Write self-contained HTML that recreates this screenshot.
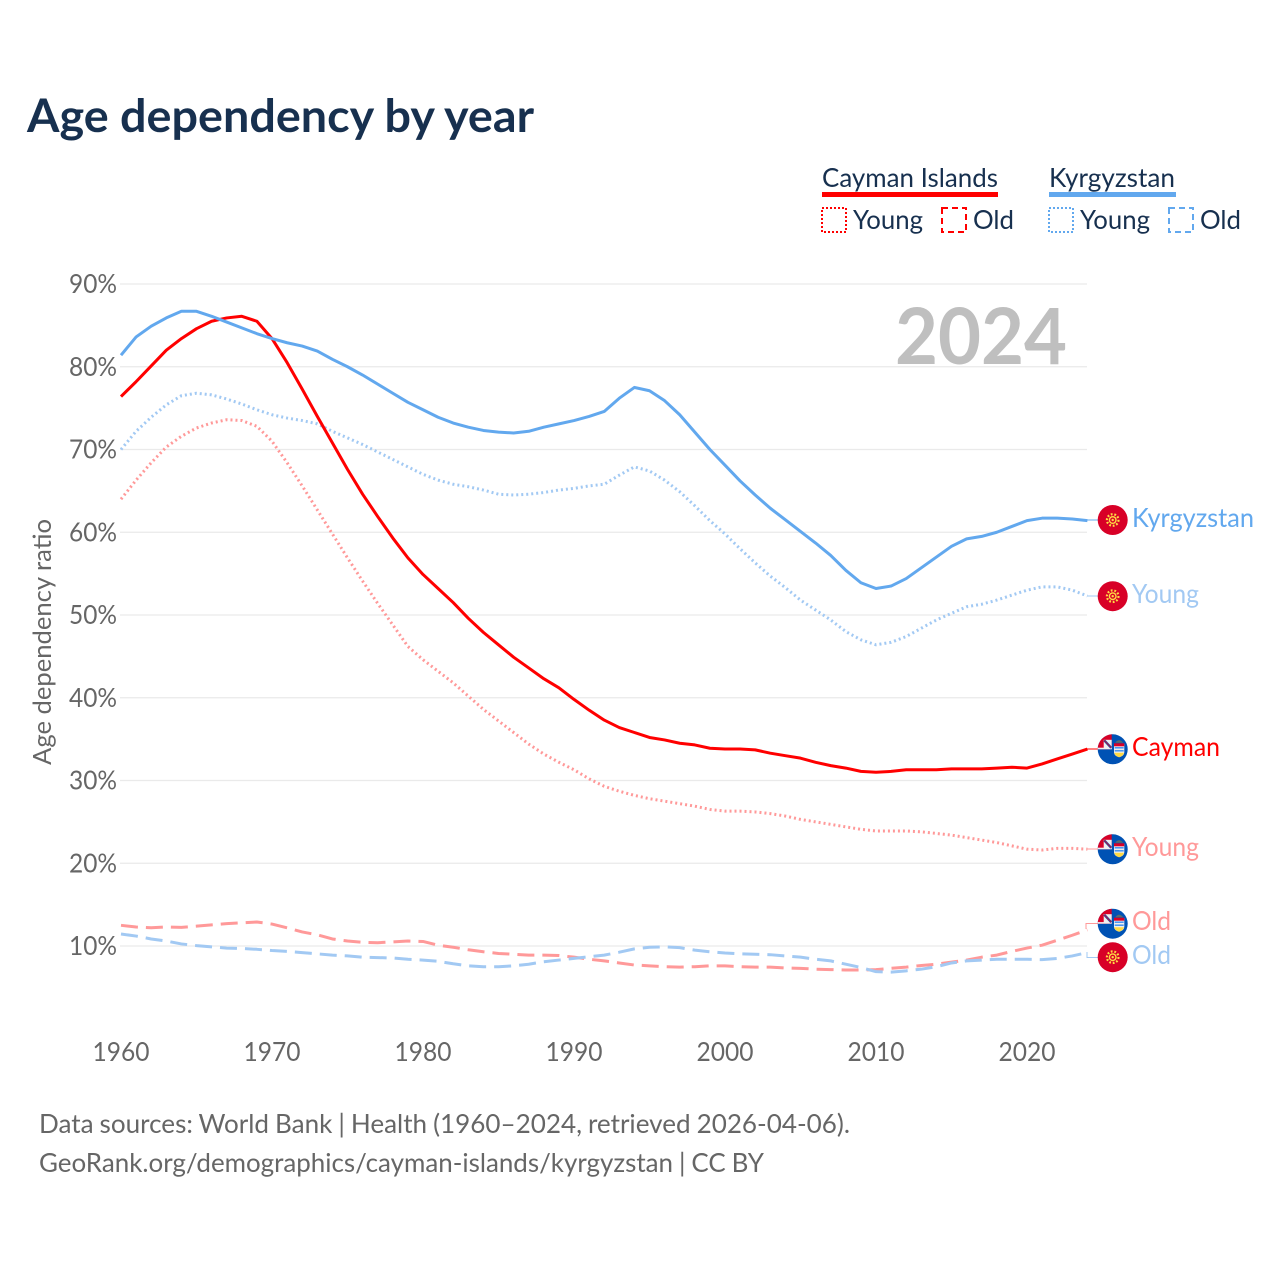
<!DOCTYPE html>
<html>
<head>
<meta charset="utf-8">
<title>Age dependency by year</title>
<style>
html,body{margin:0;padding:0;background:#fff;}
svg{display:block;}
text{font-family:"Lato","Carlito","Liberation Sans","DejaVu Sans",sans-serif;}
</style>
</head>
<body>
<svg id="chart" width="1280" height="1280" viewBox="0 0 1280 1280" xmlns="http://www.w3.org/2000/svg">
  <rect x="0" y="0" width="1280" height="1280" fill="#fff"/>
  <text x="27" y="132" font-size="46" font-weight="700" fill="#17304f" textLength="507" lengthAdjust="spacingAndGlyphs">Age dependency by year</text>

  <text x="822" y="187" font-size="26" fill="#17304f" textLength="176" lengthAdjust="spacingAndGlyphs">Cayman Islands</text>
  <rect x="822" y="192" width="176" height="5" fill="#ff0000"/>
  <rect x="822" y="208" width="24" height="24" fill="none" stroke="#ff0000" stroke-width="2" stroke-dasharray="2 2"/>
  <text x="853" y="229" font-size="26" fill="#17304f" textLength="70" lengthAdjust="spacingAndGlyphs">Young</text>
  <rect x="942" y="208" width="24" height="24" fill="none" stroke="#ff0000" stroke-width="2" stroke-dasharray="6 4"/>
  <text x="973" y="229" font-size="26" fill="#17304f" textLength="41" lengthAdjust="spacingAndGlyphs">Old</text>

  <text x="1049" y="187" font-size="26" fill="#17304f" textLength="126" lengthAdjust="spacingAndGlyphs">Kyrgyzstan</text>
  <rect x="1049" y="192" width="127" height="5" fill="#62a8ee"/>
  <rect x="1049" y="208" width="24" height="24" fill="none" stroke="#62a8ee" stroke-width="2" stroke-dasharray="2 2"/>
  <text x="1080" y="229" font-size="26" fill="#17304f" textLength="70" lengthAdjust="spacingAndGlyphs">Young</text>
  <rect x="1169" y="208" width="24" height="24" fill="none" stroke="#62a8ee" stroke-width="2" stroke-dasharray="6 4"/>
  <text x="1200" y="229" font-size="26" fill="#17304f" textLength="41" lengthAdjust="spacingAndGlyphs">Old</text>

  <text x="895" y="364" font-size="78" font-weight="700" fill="#bfbfbf" textLength="172" lengthAdjust="spacingAndGlyphs">2024</text>
  <text transform="translate(51 765) rotate(-90)" x="0" y="0" font-size="25" fill="#666666" textLength="246" lengthAdjust="spacingAndGlyphs">Age dependency ratio</text>

  <text x="39" y="1133" font-size="26" fill="#666666" word-spacing="-0.7" textLength="811" lengthAdjust="spacingAndGlyphs">Data sources: World Bank | Health (1960–2024, retrieved 2026-04-06).</text>
  <text x="39" y="1172" font-size="26" fill="#666666" word-spacing="-0.7" textLength="725" lengthAdjust="spacingAndGlyphs">GeoRank.org/demographics/cayman-islands/kyrgyzstan | CC BY</text>

  <g id="grid"></g>
  <g id="yticks"></g>
  <g id="xticks"></g>
  <g id="series"></g>

  <g id="end-labels">
    <path d="M1087 520H1098" fill="none" stroke="#62a8ee" stroke-width="1"/>
    <path d="M1087 596H1098" fill="none" stroke="#a2c9f3" stroke-width="1"/>
    <path d="M1087 749H1098" fill="none" stroke="#ff0000" stroke-width="1"/>
    <path d="M1087 849H1098" fill="none" stroke="#ff9999" stroke-width="1"/>
    <path d="M1086 929V923.5H1098" fill="none" stroke="#ff9999" stroke-width="1"/>
    <path d="M1087 952V957.5H1098" fill="none" stroke="#a2c9f3" stroke-width="1"/>

    <g transform="translate(1112.7 520)">
      <circle r="15" fill="#d80027"/>
      <circle r="5.8" fill="none" stroke="#ffda44" stroke-width="2.2" stroke-dasharray="1.8 1.8"/>
      <circle r="4" fill="#ffda44"/>
      <circle r="2.6" fill="#d80027"/>
      <circle r="1.2" fill="#ffda44"/>
    </g>
    <g transform="translate(1112.7 596.2)">
      <circle r="15" fill="#d80027"/>
      <circle r="5.8" fill="none" stroke="#ffda44" stroke-width="2.2" stroke-dasharray="1.8 1.8"/>
      <circle r="4" fill="#ffda44"/>
      <circle r="2.6" fill="#d80027"/>
      <circle r="1.2" fill="#ffda44"/>
    </g>
    <g transform="translate(1112.7 957.2)">
      <circle r="15" fill="#d80027"/>
      <circle r="5.8" fill="none" stroke="#ffda44" stroke-width="2.2" stroke-dasharray="1.8 1.8"/>
      <circle r="4" fill="#ffda44"/>
      <circle r="2.6" fill="#d80027"/>
      <circle r="1.2" fill="#ffda44"/>
    </g>

    <g transform="translate(1112.7 749.3)">
      <circle r="15" fill="#0052b4"/>
      <path d="M-15 0 A15 15 0 0 1 -1 -15 V0 Z" fill="#d80027"/>
      <path d="M-9 -0.5 V-9.5 H-1 V-0.5 Z" fill="#f0f0f0"/>
      <path d="M-15 -0.8 H-1" stroke="#f0f0f0" stroke-width="1.6"/>
      <path d="M-8.5 -9 L-1.5 -1.5" stroke="#2a4fa0" stroke-width="2.4"/>
      <path d="M-8.5 -9 L-1.5 -1.5" stroke="#d80027" stroke-width="0.7"/>
      <path d="M1.3 -5.5 H11.6 V3 Q11.6 6.5 6.4 8 Q1.3 6.5 1.3 3 Z" fill="#f0f0f0"/>
      <path d="M1.3 -6 H11.6 V-3 H1.3 Z" fill="#d80027"/>
      <path d="M2 -1.5 H11 M2 1.5 H11" stroke="#338af3" stroke-width="1.4"/>
      <path d="M1.6 3.5 H11.3 Q11 6.5 6.4 8 Q2 6.5 1.6 3.5 Z" fill="#ffda44"/>
      <path d="M2.5 -6.5 Q6.4 -11.5 10.5 -6.5 Z" fill="#5a6a6a"/>
    </g>
    <g transform="translate(1112.7 849.3)">
      <circle r="15" fill="#0052b4"/>
      <path d="M-15 0 A15 15 0 0 1 -1 -15 V0 Z" fill="#d80027"/>
      <path d="M-9 -0.5 V-9.5 H-1 V-0.5 Z" fill="#f0f0f0"/>
      <path d="M-15 -0.8 H-1" stroke="#f0f0f0" stroke-width="1.6"/>
      <path d="M-8.5 -9 L-1.5 -1.5" stroke="#2a4fa0" stroke-width="2.4"/>
      <path d="M-8.5 -9 L-1.5 -1.5" stroke="#d80027" stroke-width="0.7"/>
      <path d="M1.3 -5.5 H11.6 V3 Q11.6 6.5 6.4 8 Q1.3 6.5 1.3 3 Z" fill="#f0f0f0"/>
      <path d="M1.3 -6 H11.6 V-3 H1.3 Z" fill="#d80027"/>
      <path d="M2 -1.5 H11 M2 1.5 H11" stroke="#338af3" stroke-width="1.4"/>
      <path d="M1.6 3.5 H11.3 Q11 6.5 6.4 8 Q2 6.5 1.6 3.5 Z" fill="#ffda44"/>
      <path d="M2.5 -6.5 Q6.4 -11.5 10.5 -6.5 Z" fill="#5a6a6a"/>
    </g>
    <g transform="translate(1112.7 923.7)">
      <circle r="15" fill="#0052b4"/>
      <path d="M-15 0 A15 15 0 0 1 -1 -15 V0 Z" fill="#d80027"/>
      <path d="M-9 -0.5 V-9.5 H-1 V-0.5 Z" fill="#f0f0f0"/>
      <path d="M-15 -0.8 H-1" stroke="#f0f0f0" stroke-width="1.6"/>
      <path d="M-8.5 -9 L-1.5 -1.5" stroke="#2a4fa0" stroke-width="2.4"/>
      <path d="M-8.5 -9 L-1.5 -1.5" stroke="#d80027" stroke-width="0.7"/>
      <path d="M1.3 -5.5 H11.6 V3 Q11.6 6.5 6.4 8 Q1.3 6.5 1.3 3 Z" fill="#f0f0f0"/>
      <path d="M1.3 -6 H11.6 V-3 H1.3 Z" fill="#d80027"/>
      <path d="M2 -1.5 H11 M2 1.5 H11" stroke="#338af3" stroke-width="1.4"/>
      <path d="M1.6 3.5 H11.3 Q11 6.5 6.4 8 Q2 6.5 1.6 3.5 Z" fill="#ffda44"/>
      <path d="M2.5 -6.5 Q6.4 -11.5 10.5 -6.5 Z" fill="#5a6a6a"/>
    </g>

    <text x="1132" y="527" font-size="26" fill="#62a8ee" textLength="122" lengthAdjust="spacingAndGlyphs">Kyrgyzstan</text>
    <text x="1132" y="603" font-size="26" fill="#a2c9f3" textLength="67" lengthAdjust="spacingAndGlyphs">Young</text>
    <text x="1132" y="756" font-size="26" fill="#ff0000" textLength="88" lengthAdjust="spacingAndGlyphs">Cayman</text>
    <text x="1132" y="856" font-size="26" fill="#ff9999" textLength="67" lengthAdjust="spacingAndGlyphs">Young</text>
    <text x="1132" y="930" font-size="26" fill="#ff9999" textLength="39" lengthAdjust="spacingAndGlyphs">Old</text>
    <text x="1132" y="964" font-size="26" fill="#a2c9f3" textLength="39" lengthAdjust="spacingAndGlyphs">Old</text>
  </g>
</svg>
<script>
const startYear = 1960;
const yTickValues = [10, 20, 30, 40, 50, 60, 70, 80, 90];
const yTickLabels = ["10%", "20%", "30%", "40%", "50%", "60%", "70%", "80%", "90%"];
const xTickValues = [1960, 1970, 1980, 1990, 2000, 2010, 2020];
const xTickLabels = ["1960", "1970", "1980", "1990", "2000", "2010", "2020"];

const caymanOld = [12.5,12.3,12.2,12.3,12.25,12.4,12.55,12.7,12.8,12.9,12.65,12.2,11.7,11.35,10.85,10.6,10.45,10.4,10.5,10.6,10.55,10.1,9.85,9.55,9.3,9.1,9,8.9,8.9,8.85,8.65,8.4,8.2,7.95,7.7,7.6,7.5,7.45,7.5,7.6,7.6,7.5,7.45,7.45,7.35,7.3,7.2,7.15,7.1,7.1,7.15,7.3,7.45,7.65,7.8,8.05,8.3,8.65,8.9,9.35,9.75,10.1,10.7,11.3,11.95];
const kyrgyzOld = [11.45,11.2,10.85,10.6,10.25,10.05,9.9,9.75,9.7,9.6,9.45,9.35,9.2,9.05,8.9,8.8,8.65,8.6,8.55,8.4,8.3,8.15,7.85,7.6,7.5,7.5,7.6,7.8,8.1,8.3,8.5,8.7,8.9,9.25,9.65,9.85,9.9,9.8,9.5,9.3,9.15,9.05,9,8.95,8.8,8.65,8.4,8.2,7.8,7.4,6.9,6.85,7,7.2,7.5,7.95,8.2,8.3,8.4,8.4,8.4,8.35,8.5,8.8,9.2];
const caymanYoung = [64,66.3,68.4,70.3,71.6,72.6,73.2,73.6,73.5,72.8,71,68.4,65.6,62.7,59.8,56.9,54.1,51.4,48.8,46.2,44.6,43.2,41.8,40.2,38.6,37.2,35.8,34.4,33.2,32.2,31.3,30.2,29.3,28.7,28.2,27.8,27.5,27.2,26.9,26.5,26.3,26.3,26.2,26,25.7,25.3,25,24.7,24.4,24.1,23.9,23.9,23.9,23.8,23.6,23.4,23.1,22.8,22.5,22.1,21.7,21.6,21.8,21.8,21.7];
const kyrgyzYoung = [70,72.2,73.9,75.4,76.5,76.8,76.6,76.1,75.5,74.8,74.2,73.8,73.5,73.1,72.2,71.4,70.6,69.7,68.8,67.9,67,66.3,65.8,65.5,65.1,64.6,64.5,64.6,64.8,65.1,65.3,65.6,65.8,66.9,67.9,67.4,66.3,64.9,63.2,61.4,59.8,58,56.3,54.7,53.3,51.8,50.6,49.4,48,47,46.4,46.7,47.4,48.4,49.4,50.2,51,51.3,51.8,52.4,53,53.4,53.4,53,52.3];
const caymanTotal = [76.4,78.2,80.1,82,83.4,84.6,85.5,85.9,86.1,85.5,83.4,80.5,77.3,74,70.8,67.6,64.6,61.9,59.3,56.9,54.9,53.2,51.5,49.6,47.9,46.4,44.9,43.6,42.3,41.2,39.8,38.5,37.3,36.4,35.8,35.2,34.9,34.5,34.3,33.9,33.8,33.8,33.7,33.3,33,32.7,32.2,31.8,31.5,31.1,31,31.1,31.3,31.3,31.3,31.4,31.4,31.4,31.5,31.6,31.5,32,32.6,33.2,33.8];
const kyrgyzTotal = [81.4,83.6,84.9,85.9,86.7,86.7,86.1,85.4,84.7,84,83.4,82.9,82.5,81.9,80.9,80,79,77.9,76.8,75.7,74.8,73.9,73.2,72.7,72.3,72.1,72,72.2,72.7,73.1,73.5,74,74.6,76.2,77.5,77.1,75.9,74.2,72.1,70,68.1,66.2,64.5,62.9,61.5,60.1,58.7,57.2,55.4,53.9,53.2,53.5,54.4,55.7,57,58.3,59.2,59.5,60,60.7,61.4,61.7,61.7,61.6,61.4];

const NS = "http://www.w3.org/2000/svg";
function xScale(year) { return 121 + (year - 1960) * 15.1; }
function yScale(v) { return 1028.75 - v * 8.275; }
function pointsOf(values) {
  return values.map(function (v, i) {
    return xScale(startYear + i).toFixed(2) + "," + yScale(v).toFixed(2);
  }).join(" ");
}

const gridGroup = document.getElementById("grid");
const yTickGroup = document.getElementById("yticks");
const xTickGroup = document.getElementById("xticks");
const seriesGroup = document.getElementById("series");

yTickValues.forEach(function (v, i) {
  const line = document.createElementNS(NS, "line");
  
  
  line.setAttribute("x1", 120);
  line.setAttribute("x2", 1087);
  line.setAttribute("y1", yScale(v));
  line.setAttribute("y2", yScale(v));
  line.setAttribute("stroke", "#eaeaea");
  line.setAttribute("stroke-width", "1.3");
  gridGroup.appendChild(line);

  const t = document.createElementNS(NS, "text");
  
  
  t.setAttribute("x", 69);
  t.setAttribute("y", yScale(v) + 9);
  t.setAttribute("font-size", "26");
  t.setAttribute("fill", "#666666");
  t.setAttribute("textLength", "48");
  t.setAttribute("lengthAdjust", "spacingAndGlyphs");
  t.textContent = yTickLabels[i];
  yTickGroup.appendChild(t);
});

xTickValues.forEach(function (yr, i) {
  const t = document.createElementNS(NS, "text");
  
  
  t.setAttribute("x", xScale(yr) - 28.5);
  t.setAttribute("y", 1061);
  t.setAttribute("font-size", "26");
  t.setAttribute("fill", "#666666");
  t.setAttribute("textLength", "57");
  t.setAttribute("lengthAdjust", "spacingAndGlyphs");
  t.textContent = xTickLabels[i];
  xTickGroup.appendChild(t);
});

function addSeries(values, name, color, width, dash) {
  const p = document.createElementNS(NS, "polyline");
  
  
  p.setAttribute("points", pointsOf(values));
  p.setAttribute("fill", "none");
  p.setAttribute("stroke", color);
  p.setAttribute("stroke-width", width);
  p.setAttribute("stroke-linejoin", "round");
  if (dash) { p.setAttribute("stroke-dasharray", dash); }
  seriesGroup.appendChild(p);
}

addSeries(caymanOld, "cayman-old-line", "#ff9999", 3, "17 8");
addSeries(kyrgyzOld, "kyrgyzstan-old-line", "#a2c9f3", 3, "17 8");
addSeries(caymanYoung, "cayman-young-line", "#ff9999", 3, "2 3");
addSeries(kyrgyzYoung, "kyrgyzstan-young-line", "#a2c9f3", 3, "2 3");
addSeries(caymanTotal, "cayman-total-line", "#ff0000", 3, "");
addSeries(kyrgyzTotal, "kyrgyzstan-total-line", "#62a8ee", 3, "");
</script>
</body>
</html>
